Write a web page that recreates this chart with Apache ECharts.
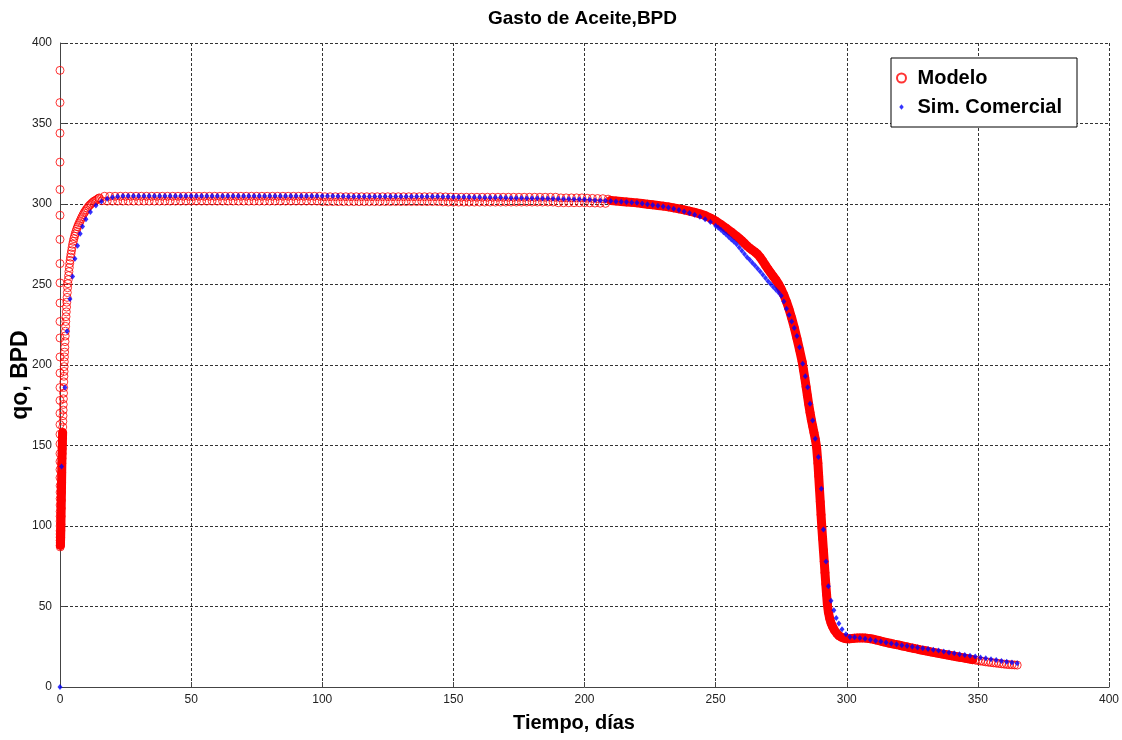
<!DOCTYPE html>
<html><head><meta charset="utf-8">
<script src="https://cdn.jsdelivr.net/npm/echarts@6/dist/echarts.min.js"></script>
<style>html,body{margin:0;padding:0;background:#fff}#c{width:1122px;height:740px}</style>
</head><body><div id="c"></div>
<script>
const tituloGrafica = 'Gasto de Aceite,BPD';
const nombreEjeX = 'Tiempo, días';
const nombreEjeY = 'qo, BPD';
const ticksX = [0, 50, 100, 150, 200, 250, 300, 350, 400];
const ticksY = [0, 50, 100, 150, 200, 250, 300, 350, 400];

// Modelo: first time steps (values stacked at t ~ 0)
const modeloInicio = [
[0,383],[0,363],[0,344],[0,326],[0,309],[0,293],[0,278],[0,263],[0,251],[0,238.5],
[0,227],[0,216.8],[0,205],[0,195],[0,186],[0,178],[0,170],[0,163],[0,157],[0,151],
[0,145],[0,140],[0,135],[0,130],[0.05,125],[0.05,121],[0.05,117],[0.05,113],[0.05,109],[0.05,106],
[0.05,103],[0.05,100],[0.05,97],[0.05,95],[0.05,93],[0.05,91],[0.1,89.5],[0.1,88],[0.1,87]
];
// Modelo: build-up
const modeloSubida = [
[0.15,88],[0.2,90],[0.25,93],[0.3,97],[0.35,101],[0.4,106],[0.45,111],[0.5,116],[0.55,121],[0.6,127],
[0.65,133],[0.7,139],[0.75,142],[0.8,145],[0.85,148],[0.9,151],[0.95,154.5],[1.0,158],[1.05,161.5],[1.1,165],
[1.15,168.5],[1.2,172],[1.25,175.5],[1.3,179],[1.35,182.5],[1.4,186],[1.45,189.5],[1.5,193],[1.55,196],[1.6,199],
[1.65,202],[1.7,205],[1.78,208],[1.85,211],[1.92,214.5],[2.0,218],[2.08,221],[2.15,224],[2.22,227],[2.3,230],
[2.4,233],[2.5,236],[2.6,239],[2.7,242],[2.8,245],[2.9,248],[3.02,250.5],[3.15,253],[3.27,255.5],[3.4,258],
[3.55,260.5],[3.7,263],[3.85,265],[4.0,267],[4.2,269],[4.4,271],[4.6,273],[4.8,275],[5.05,276.8],[5.3,278.5],
[5.55,280],[5.8,281.5],[6.1,283],[6.4,284.5],[6.7,285.8],[7.0,287],[7.35,288.3],[7.7,289.5],[8.05,290.8],[8.4,292],
[8.8,293.3],[9.2,294.5],[9.6,295.5],[10.0,296.5],[10.45,297.5],[10.9,298.5],[11.35,299.3],[11.8,300],[12.3,300.8],[12.8,301.5],
[13.3,302],[13.8,302.5],[14.3,303],[14.8,303.5]
];
// Modelo: plateau
const modeloMeseta = [
[15,303.8],[16,302.0],[17,304.8],[18,301.8],[19,304.8],[20,301.8],[21,304.8],[22,301.8],[23,304.8],[24,301.8],
[25,304.8],[26,301.8],[27,304.8],[28,301.8],[29,304.8],[30,301.8],[31,304.8],[32,301.8],[33,304.8],[34,301.8],
[35,304.8],[36,301.8],[37,304.8],[38,301.8],[39,304.8],[40,301.8],[41,304.8],[42,301.8],[43,304.8],[44,301.8],
[45,304.8],[46,301.8],[47,304.8],[48,301.8],[49,304.8],[50,301.8],[51,304.8],[52,301.8],[53,304.8],[54,301.8],
[55,304.8],[56,301.8],[57,304.8],[58,301.8],[59,304.8],[60,301.8],[61,304.8],[62,301.8],[63,304.8],[64,301.8],
[65,304.8],[66,301.8],[67,304.8],[68,301.8],[69,304.8],[70,301.8],[71,304.8],[72,301.8],[73,304.8],[74,301.8],
[75,304.8],[76,301.8],[77,304.8],[78,301.8],[79,304.8],[80,301.8],[81,304.8],[82,301.8],[83,304.8],[84,301.8],
[85,304.8],[86,301.8],[87,304.8],[88,301.8],[89,304.8],[90,301.8],[91,304.8],[92,301.8],[93,304.8],[94,301.8],
[95,304.8],[96,301.8],[97,304.8],[98,301.8],[99,304.8],[100,301.5],[101,304.5],[102,301.5],[103,304.5],[104,301.5],
[105,304.5],[106,301.5],[107,304.5],[108,301.5],[109,304.5],[110,301.5],[111,304.5],[112,301.5],[113,304.5],[114,301.5],
[115,304.5],[116,301.5],[117,304.5],[118,301.5],[119,304.5],[120,301.5],[121,304.5],[122,301.5],[123,304.5],[124,301.5],
[125,304.5],[126,301.5],[127,304.5],[128,301.5],[129,304.5],[130,301.5],[131,304.5],[132,301.5],[133,304.5],[134,301.5],
[135,304.5],[136,301.5],[137,304.5],[138,301.5],[139,304.5],[140,301.5],[141,304.5],[142,301.5],[143,304.5],[144,301.5],
[145,304.5],[146,301.3],[147,304.4],[148,301.2],[149,304.3],[150,301.2],[151,304.2],[152,301.2],[153,304.2],[154,301.2],
[155,304.2],[156,301.2],[157,304.2],[158,301.2],[159,304.2],[160,301.2],[161,304.2],[162,301.2],[163,304.2],[164,301.2],
[165,304.2],[166,301.2],[167,304.2],[168,301.2],[169,304.2],[170,301.2],[171,304.2],[172,301.2],[173,304.2],[174,301.2],
[175,304.2],[176,301.2],[177,304.2],[178,301.2],[179,304.2],[180,301.2],[181,304.2],[182,301.2],[183,304.2],[184,301.2],
[185,304.2],[186,301.2],[187,304.2],[188,301.2],[189,304.2],[190,300.8],[191,303.8],[192,300.8],[193,303.8],[194,300.8],
[195,303.8],[196,300.8],[197,303.8],[198,300.8],[199,303.8],[200,300.8],[201,303.6],[202,300.7],[203,303.5],[204,300.6],
[205,303.4],[206,300.5],[207,303.3],[208,300.4],[209,303.0]
];
// Modelo: decline, fast drop and tail
const modeloBajada = [
[210,302.2],[212,301.9],[214,301.6],[216,301.3],[218,301.0],[220,300.7],[222,300.3],[224,299.9],[226,299.5],[228,299.1],
[230,298.7],[232,298.2],[234,297.6],[236,297.0],[238,296.3],[240,295.6],[242,294.8],[244,293.9],[246,292.8],[248,291.3],
[250,289.5],[252,287.3],[254,285.0],[256,282.6],[258,280.0],[259,278.6],[260,277.2],[261,275.6],[262,274.0],[263,272.6],
[264,271.4],[265,270.2],[266,268.8],[267,266.8],[268,264.5],[269,262.0],[270,259.5],[271,257.2],[272,255.0],[273,252.8],
[274,250.2],[275,247.2],[276,243.6],[277,239.4],[278,234.6],[279,229.2],[280,223.2],[281,216.5],[282,209.5],[283,202],
[283.5,197],[284,192],[284.5,186.5],[285,181],[285.5,175.5],[286,170.5],[286.5,166],[287,162],[287.5,158],[288,154],
[288.5,149],[289,139],[289.3,131],[289.6,123],[289.9,115],[290.2,107],[290.5,99],[290.8,92],[291.1,85],[291.4,78],
[291.7,71],[292,64],[292.3,57.5],[292.6,51.5],[293,46.5],[293.5,42.5],[294,39.8],[294.6,37.5],[295.3,35.3],[296.2,33.3],
[297,31.9],[298,30.9],[299,30.3],[300,30.0],[301,29.9],[302,30.1],[303,30.3],[304,30.4],[305,30.5],[306,30.5],
[307,30.4],[308,30.2],[309,30.0],[310,29.7],[311,29.3],[312,28.9],[313,28.5],[314,28.1],[315,27.7],[316,27.3],
[317,27.0],[318,26.6],[319,26.3],[320,26.0],[321,25.6],[322,25.2],[323,24.9],[324,24.5],[325,24.2],[326,23.8],
[327,23.5],[328,23.1],[329,22.8],[330,22.5],[331,22.2],[332,21.8],[333,21.5],[334,21.2],[335,20.9],[336,20.6],
[337,20.3],[338,20.0],[339,19.7],[340,19.4],[341,19.1],[342,18.8],[343,18.5],[344,18.2],[345,17.9],[346,17.6],
[347,17.3],[348,17.0],[349,16.7],[350,16.4],[351,16.1],[352,15.9],[353,15.6],[354,15.4],[355,15.2],[356,15.0],
[357,14.8],[358,14.6],[359,14.4],[360,14.2],[361,14.0],[362,13.9],[363,13.8],[364,13.7],[365,13.6]
];
// Simulador comercial
const simComercial = [
[0,0],[0.6,137],[1.9,186],[2.7,221],[3.8,241],[4.8,255],[5.7,266],[6.7,274],[7.7,281.5],[8.6,286],
[9.9,290.5],[11.6,295],[13.7,299],[15.8,301.5],[18,303.2],[20,304.2],[22,304.7],[24,305.0],[26,305.0],[28,305.0],
[30,305.0],[32,305.0],[34,305.0],[36,305.0],[38,305.0],[40,305.0],[42,305.0],[44,305.0],[46,305.0],[48,305.0],
[50,305.0],[52,305.0],[54,305.0],[56,305.0],[58,305.0],[60,305.0],[62,305.0],[64,305.0],[66,305.0],[68,305.0],
[70,305.0],[72,305.0],[74,305.0],[76,305.0],[78,305.0],[80,305.0],[82,305.0],[84,305.0],[86,305.0],[88,305.0],
[90,305.0],[92,305.0],[94,305.0],[96,305.0],[98,305.0],[100,305.0],[102,304.9],[104,304.9],[106,304.8],[108,304.8],
[110,304.7],[112,304.6],[114,304.6],[116,304.6],[118,304.6],[120,304.6],[122,304.6],[124,304.6],[126,304.6],[128,304.6],
[130,304.6],[132,304.6],[134,304.6],[136,304.6],[138,304.6],[140,304.6],[142,304.6],[144,304.6],[146,304.5],[148,304.5],
[150,304.4],[152,304.4],[154,304.3],[156,304.3],[158,304.2],[160,304.2],[162,304.1],[164,304.1],[166,304.0],[168,304.0],
[170,303.9],[172,303.8],[174,303.8],[176,303.7],[178,303.6],[180,303.6],[182,303.5],[184,303.4],[186,303.4],[188,303.3],
[190,303.2],[192,303.1],[194,303.1],[196,303.0],[198,302.9],[200,302.8],[202,302.6],[204,302.4],[206,302.2],[208,302.0],
[210,301.8],[212,301.6],[214,301.4],[216,301.2],[218,301.0],[220,300.7],[222,300.3],[224,299.9],[226,299.4],[228,298.9],
[230,298.4],[232,297.8],[234,297.1],[236,296.3],[238,295.4],[240,294.4],[242,293.3],[244,292.1],[246,290.6],[248,288.8],
[250,286.5],[251,285.3],[252,284.0],[253,282.5],[254,281.0],[255,279.5],[256,278.0],[257,276.5],[258,275.0],[259,273.0],
[260,271.0],[261,269.0],[262,267.0],[263,265.3],[264,263.5],[265,261.8],[266,260.0],[267,258.0],[268,256.0],[269,254.0],
[270,252.0],[271,250.3],[272,248.5],[273,246.8],[274,245.0],[275,243.0],[276,239.5],[277,235.0],[278,231.0],[279,227.0],
[280,223.0],[281,218.0],[282,211.0],[283.2,200.7],[284.2,193],[285.1,186.2],[286,176],[287,165.6],[288,154.2],[289.2,142.8],
[290.3,123.2],[291.1,97.8],[292.1,78],[293,62.6],[294,53.5],[295.1,47.7],[296,42.9],[297,39.5],[298.2,35.8],[299.7,32.8],
[301.2,31.1],[303,30.9],[305,30.5],[307,30.0],[309,29.4],[311,28.8],[313,28.2],[315,27.6],[317,27.0],[319,26.5],
[321,26.0],[323,25.5],[325,25.0],[327,24.6],[329,24.1],[331,23.6],[333,23.1],[335,22.6],[337,22.0],[339,21.5],
[341,21.0],[343,20.4],[345,19.9],[347,19.4],[349,18.9],[351,18.4],[353,17.9],[355,17.3],[357,16.8],[359,16.2],
[361,15.7],[363,15.2],[365,14.7]
];

const FONT = "'Liberation Sans', Arial, Helvetica, sans-serif";
const modeloPuntos = modeloInicio.concat(modeloSubida, modeloMeseta, modeloBajada);
const modeloDensoInicio = modeloSubida.filter(p => p[1] <= 160);
const modeloDensoFinal = modeloBajada.filter(p => p[0] <= 348);

const chart = echarts.init(document.getElementById('c'), null, {renderer: 'canvas'});
const axisCommon = {
  type: 'value',
  axisLine: {show: true, onZero: false, lineStyle: {color: '#444', width: 1}},
  axisTick: {show: true, inside: true, length: 5, lineStyle: {color: '#444'}},
  axisLabel: {fontFamily: FONT, fontSize: 12, color: '#222'},
  splitLine: {show: true, showMinLine: false, showMaxLine: true, lineStyle: {color: '#333', width: 1, type: [3, 2]}},
  nameLocation: 'middle',
  nameMoveOverlap: false,
  nameTextStyle: {fontFamily: FONT, fontWeight: 'bold', color: '#000'}
};
chart.setOption({
  animation: false,
  backgroundColor: '#fff',
  title: {
    text: tituloGrafica, left: 488, top: 4, padding: [5, 0, 5, 0],
    textStyle: {fontFamily: FONT, fontSize: 19, fontWeight: 'bold', color: '#000'}
  },
  grid: {left: 60, right: 13, top: 43, bottom: 53, containLabel: false, outerBoundsMode: 'none'},
  xAxis: Object.assign({}, axisCommon, {
    min: ticksX[0], max: ticksX[ticksX.length - 1], interval: ticksX[1] - ticksX[0],
    name: nombreEjeX, nameGap: 26,
    axisLabel: Object.assign({}, axisCommon.axisLabel, {margin: 7}),
    nameTextStyle: Object.assign({}, axisCommon.nameTextStyle, {fontSize: 20, padding: [0, 21, 0, 0]})
  }),
  yAxis: Object.assign({}, axisCommon, {
    min: ticksY[0], max: ticksY[ticksY.length - 1], interval: ticksY[1] - ticksY[0],
    name: nombreEjeY, nameGap: 28,
    axisLabel: Object.assign({}, axisCommon.axisLabel, {margin: 8}),
    nameTextStyle: Object.assign({}, axisCommon.nameTextStyle, {fontSize: 23, padding: [0, 20, 0, 0]})
  }),
  legend: {
    orient: 'vertical', left: 891, top: 58,
    padding: [10, 15, 10, 5], itemGap: 9, itemWidth: 22, itemHeight: 9,
    backgroundColor: '#fff', borderColor: '#000', borderWidth: 1, borderRadius: 0,
    textStyle: {fontFamily: FONT, fontSize: 20, fontWeight: 'bold', color: '#000'},
    data: [
      {name: 'Modelo', icon: 'circle'},
      {name: 'Sim. Comercial', icon: 'path://M0,0M10,10M5,2L7.5,5L5,8L2.5,5Z'}
    ]
  },
  series: [
    {
      name: 'Modelo', type: 'scatter', data: modeloPuntos, z: 3,
      symbol: 'circle', symbolSize: 8,
      itemStyle: {color: 'rgba(255,0,0,0)', borderColor: '#ff0000', borderWidth: 1},
      emphasis: {disabled: true}, large: false, progressive: 0
    },
    {
      name: 'Modelo', type: 'line', data: modeloDensoInicio, z: 2,
      symbol: 'none', lineStyle: {color: '#ff0000', width: 9, cap: 'round', join: 'round'},
      itemStyle: {color: '#ff0000'}, emphasis: {disabled: true}
    },
    {
      name: 'Modelo', type: 'line', data: modeloDensoFinal, z: 2,
      symbol: 'none', lineStyle: {color: '#ff0000', width: 9, cap: 'round', join: 'round'},
      itemStyle: {color: '#ff0000'}, emphasis: {disabled: true}
    },
    {
      name: 'Sim. Comercial', type: 'scatter', data: simComercial, z: 4,
      symbol: 'diamond', symbolSize: [5, 6],
      itemStyle: {color: '#0000ff'},
      emphasis: {disabled: true}, large: false, progressive: 0
    }
  ]
});
</script></body></html>
